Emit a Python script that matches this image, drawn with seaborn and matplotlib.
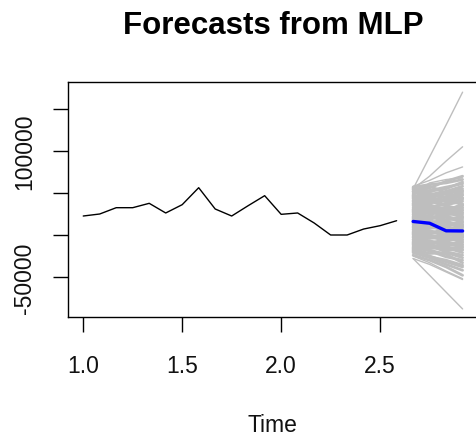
import numpy as np
import pandas as pd
import matplotlib
matplotlib.use("Agg")
import matplotlib.pyplot as plt
import seaborn as sns

sns.set_style("white")
plt.rcParams['font.family'] = ['Liberation Sans', 'DejaVu Sans']

# observed series (monthly, starting at 1.0)
obs_start = 1.0
obs_freq = 12
obs_values = [22600, 25000, 32500, 32500, 37700, 26200, 36100, 56300, 30950, 22600,
              34900, 46800, 24600, 26200, 14300, 0, 0, 7100, 11100, 17000]

# forecast horizon: 4 months after the last observation
fc_steps = [20, 21, 22, 23]
fc_mean = [16100, 14000, 5000, 4800]

# ensemble forecast paths (thousands) forming the dense grey bundle
core_paths = [
    [57, 60, 62, 66], [55, 48, 52, 58], [54, 58, 50, 44], [52, 45, 40, 47],
    [50, 53, 57, 61], [48, 40, 35, 30], [46, 50, 44, 52], [45, 38, 42, 36],
    [43, 47, 51, 55], [41, 34, 28, 24], [40, 42, 36, 40], [38, 31, 33, 27],
    [36, 39, 43, 48], [35, 28, 22, 18], [33, 36, 30, 33], [31, 25, 27, 21],
    [30, 33, 37, 42], [28, 22, 16, 12], [27, 29, 24, 26], [25, 20, 21, 15],
    [24, 27, 31, 35], [22, 16, 10, 6], [21, 23, 18, 20], [19, 14, 15, 9],
    [18, 21, 24, 29], [16, 11, 4, 0], [15, 17, 12, 13], [13, 8, 9, 3],
    [12, 15, 18, 22], [10, 5, -2, -6], [9, 11, 6, 7], [7, 2, 3, -3],
    [6, 9, 12, 16], [4, -1, -8, -12], [3, 5, 0, 1], [1, -4, -3, -9],
    [0, 3, 6, 10], [-2, -7, -14, -18], [-3, -1, -6, -5], [-5, -10, -9, -15],
    [-6, -3, 0, 4], [-8, -13, -20, -24], [-9, -7, -12, -11], [-11, -16, -15, -21],
    [-12, -9, -6, -2], [-14, -19, -26, -30], [-15, -13, -18, -17], [-17, -22, -21, -27],
    [-18, -15, -12, -8], [-19, -25, -32, -38], [-21, -27, -35, -42], [-24, -30, -38, -48],
    [52, 56, 64, 70], [-20, -26, -30, -36], [47, 44, 49, 53], [37, 32, 38, 44],
    [20, 18, 26, 32], [44, 41, 46, 50], [29, 31, 28, 37], [14, 12, 7, 11],
    [2, 0, -4, -1], [-10, -11, -16, -14], [-16, -18, -23, -33], [56, 52, 55, 63],
]
# stray paths outside the bundle
stray_paths = [
    [55, 93, 131, 170], [55, 70, 88, 105], [58, 65, 74, 81], [50, 62, 66, 68],
    [-28, -48, -68, -88], [-25, -33, -43, -52], [-28, -35, -44, -53],
]

y_ticks = [-50000, 0, 50000, 100000, 150000]
y_ticklabels = ["-50000", "", "", "100000", ""]
x_ticks = [1.0, 1.5, 2.0, 2.5]
x_ticklabels = ["1.0", "1.5", "2.0", "2.5"]

t_obs = obs_start + np.arange(len(obs_values)) / obs_freq
t_fc = obs_start + np.array(fc_steps) / obs_freq


def paths_frame(paths):
    return pd.DataFrame([
        {"path": i, "t": t_fc[j], "v": p[j] * 1000}
        for i, p in enumerate(paths) for j in range(len(fc_steps))
    ])


obs_df = pd.DataFrame({"t": t_obs, "v": obs_values})
mean_df = pd.DataFrame({"t": t_fc, "v": fc_mean})

fig = plt.figure(figsize=(4.76, 4.39), dpi=100)
ax = fig.add_axes([68 / 476, (439 - 318) / 439, (477.7 - 68) / 476, (318 - 83) / 439])

sns.lineplot(data=paths_frame(stray_paths), x="t", y="v", units="path", estimator=None,
             color="#bebebe", lw=1.0, ax=ax)
sns.lineplot(data=paths_frame(core_paths), x="t", y="v", units="path", estimator=None,
             color="#bebebe", lw=2.0, ax=ax)
sns.lineplot(data=obs_df, x="t", y="v", color="black", lw=1.0, ax=ax)
sns.lineplot(data=mean_df, x="t", y="v", color="#0000ff", lw=2.4, ax=ax)

ax.set_xlim(0.923, 2.993)
ax.set_ylim(-97600, 182100)
ax.set_xticks(x_ticks)
ax.set_xticklabels(x_ticklabels)
ax.set_yticks(y_ticks)
ax.set_yticklabels(y_ticklabels, rotation=90, va="center")
ax.tick_params(axis="both", length=10.8, width=1.0, color="black",
               labelsize=16.5, labelcolor="#111111", direction="out",
               bottom=True, left=True)
ax.tick_params(axis="x", pad=16)
ax.tick_params(axis="y", pad=12)
for s in ax.spines.values():
    s.set_color("black")
    s.set_linewidth(1.0)

ax.set_xlabel("Time", fontsize=16.5, labelpad=26, color="#111111")
ax.set_ylabel("")
ax.set_title("Forecasts from MLP", fontsize=22.5, fontweight="bold", pad=35, color="black")

fig.savefig("out.png", dpi=100)
